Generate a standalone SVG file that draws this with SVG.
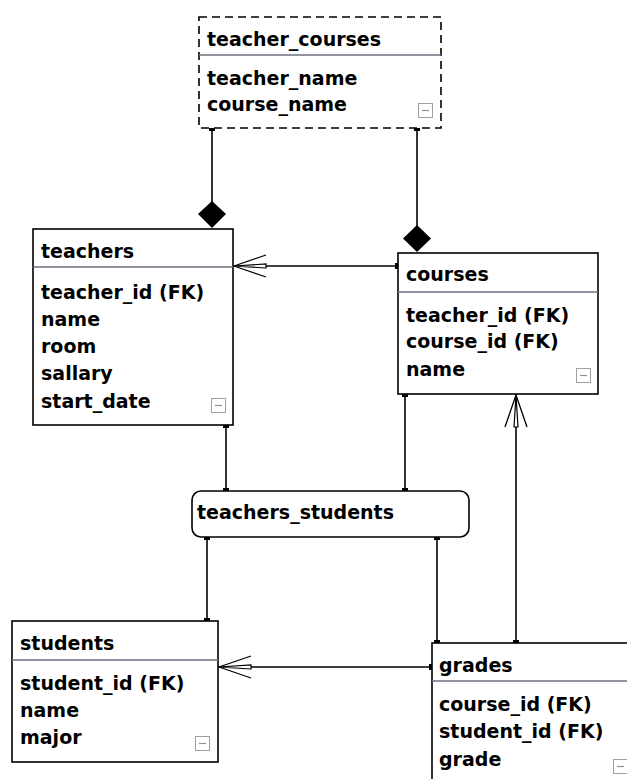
<svg xmlns="http://www.w3.org/2000/svg" width="627" height="779" viewBox="0 0 627 779">
<style>
.box{fill:#fff;stroke:#000;stroke-width:1.6}
.dash{fill:#fff;stroke:#000;stroke-width:1.6;stroke-dasharray:8,5}
.div{stroke:#6b6f80;stroke-width:1.3}
.t{font-family:"DejaVu Sans",Verdana,sans-serif;font-weight:bold;font-size:19px;fill:#000}
.min{fill:#fff;stroke:#a0a0a0;stroke-width:1}
.minl{stroke:#909090;stroke-width:1.2}
.ln{fill:none;stroke:#000;stroke-width:1.6}
.dia{fill:#000}
</style>
<defs>
<marker id="sq" viewBox="0 0 6 6" refX="3" refY="3" markerWidth="6" markerHeight="6" markerUnits="userSpaceOnUse" orient="auto">
<rect x="0" y="0" width="6" height="6" fill="#000"/>
</marker>
<marker id="arr" viewBox="0 0 34 24" refX="33" refY="12" markerWidth="34" markerHeight="24" markerUnits="userSpaceOnUse" orient="auto">
<path d="M1,1 L33,12 L1,23" fill="none" stroke="#000" stroke-width="1.3"/>
<path d="M1,10 L33,12 L1,14 Z" fill="#fff" stroke="#000" stroke-width="1.2"/>
</marker>
<g id="minus"><rect class="min" x="0.5" y="0.5" width="14" height="14"/><line class="minl" x1="4" y1="7.5" x2="11" y2="7.5"/></g>
</defs>
<rect width="627" height="779" fill="#fff"/>

<g id="connectors">
<line class="ln" x1="212" y1="128" x2="212" y2="202" marker-start="url(#sq)"/>
<path class="dia" d="M212,201 L226,214 L212,228 L198,214 Z"/>
<line class="ln" x1="417" y1="128" x2="417" y2="226" marker-start="url(#sq)"/>
<path class="dia" d="M417,225 L431,238.5 L417,252 L403,238.5 Z"/>
<line class="ln" x1="398" y1="266" x2="234" y2="266" marker-start="url(#sq)" marker-end="url(#arr)"/>
<line class="ln" x1="226" y1="425" x2="226" y2="491" marker-start="url(#sq)" marker-end="url(#sq)"/>
<line class="ln" x1="405" y1="394" x2="405" y2="491" marker-start="url(#sq)" marker-end="url(#sq)"/>
<line class="ln" x1="207" y1="537" x2="207" y2="621" marker-start="url(#sq)" marker-end="url(#sq)"/>
<line class="ln" x1="437" y1="537" x2="437" y2="643" marker-start="url(#sq)" marker-end="url(#sq)"/>
<line class="ln" x1="516" y1="643" x2="516" y2="395" marker-start="url(#sq)" marker-end="url(#arr)"/>
<line class="ln" x1="432" y1="667" x2="219" y2="667" marker-start="url(#sq)" marker-end="url(#arr)"/>
</g>

<g id="teacher_courses">
<rect class="dash" x="199" y="17" width="242" height="111"/>
<line class="div" x1="199" y1="55" x2="441" y2="55"/>
<text class="t" x="207" y="46">teacher_courses</text>
<text class="t" x="207" y="85">teacher_name</text>
<text class="t" x="207" y="111">course_name</text>
<use href="#minus" x="418" y="103"/>
</g>

<g id="teachers">
<rect class="box" x="33" y="229" width="200" height="196"/>
<line class="div" x1="33" y1="267" x2="233" y2="267"/>
<text class="t" x="41" y="258">teachers</text>
<text class="t" x="41" y="299">teacher_id (FK)</text>
<text class="t" x="41" y="326">name</text>
<text class="t" x="41" y="353">room</text>
<text class="t" x="41" y="380">sallary</text>
<text class="t" x="41" y="408">start_date</text>
<use href="#minus" x="211" y="398"/>
</g>

<g id="courses">
<rect class="box" x="398" y="253" width="200" height="141"/>
<line class="div" x1="398" y1="292" x2="598" y2="292"/>
<text class="t" x="406" y="281">courses</text>
<text class="t" x="406" y="322">teacher_id (FK)</text>
<text class="t" x="406" y="348">course_id (FK)</text>
<text class="t" x="406" y="376">name</text>
<use href="#minus" x="576" y="368"/>
</g>

<g id="teachers_students">
<rect class="box" x="192" y="491" width="277" height="46" rx="9" ry="9"/>
<text class="t" x="197" y="519">teachers_students</text>
</g>

<g id="students">
<rect class="box" x="12" y="621" width="206" height="141"/>
<line class="div" x1="12" y1="660" x2="218" y2="660"/>
<text class="t" x="20" y="650">students</text>
<text class="t" x="20" y="690">student_id (FK)</text>
<text class="t" x="20" y="717">name</text>
<text class="t" x="20" y="744">major</text>
<use href="#minus" x="195" y="736"/>
</g>

<g id="grades">
<rect class="box" x="432" y="643" width="210" height="150"/>
<line class="div" x1="432" y1="681" x2="627" y2="681"/>
<text class="t" x="439" y="672">grades</text>
<text class="t" x="439" y="711">course_id (FK)</text>
<text class="t" x="439" y="738">student_id (FK)</text>
<text class="t" x="439" y="766">grade</text>
<use href="#minus" x="613" y="759"/>
</g>
</svg>
